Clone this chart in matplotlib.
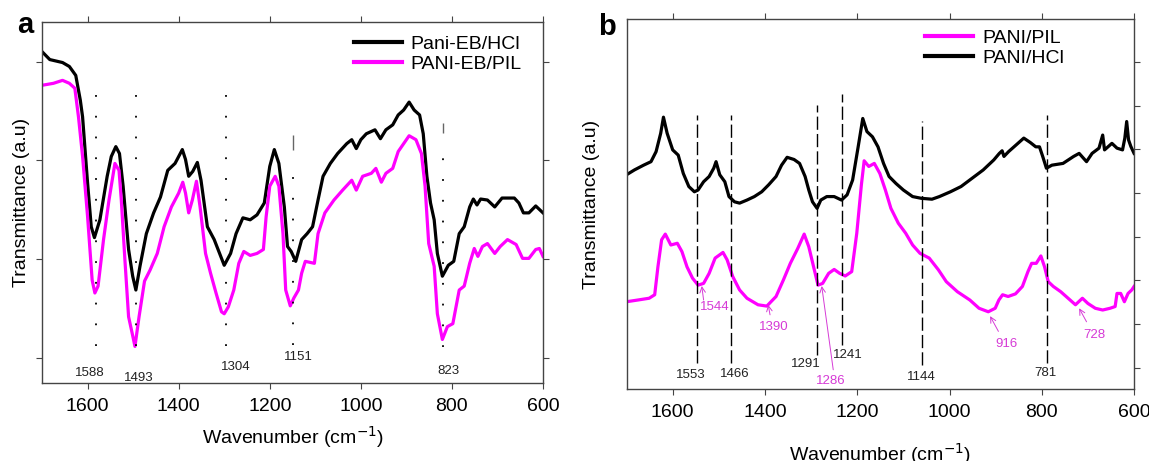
import matplotlib
matplotlib.use('Agg')
import matplotlib.pyplot as plt

plt.rcParams['font.family'] = ['Liberation Sans', 'DejaVu Sans']

# ---- panel a : FTIR spectra (transmittance, arbitrary units) ----
a_hcl_wn = [1700, 1683, 1655, 1640, 1626, 1616, 1611, 1600, 1592, 1585, 1573, 1557, 1548, 1538, 1530,
            1522, 1510, 1501, 1494, 1485, 1471, 1455, 1440, 1424, 1408, 1392, 1385, 1378, 1369, 1359,
            1351, 1337, 1322, 1300, 1286, 1274, 1259, 1243, 1228, 1212, 1200, 1190, 1180, 1168, 1161,
            1153, 1143, 1130, 1118, 1106, 1094, 1083, 1067, 1051, 1031, 1020, 1010, 1000, 988, 969,
            957, 945, 930, 918, 906, 894, 883, 871, 863, 855, 847, 839, 832, 821, 808, 796, 784, 773,
            761, 753, 745, 737, 722, 706, 690, 663, 653, 643, 631, 616, 600]
a_hcl_t = [3.10, 3.02, 2.99, 2.95, 2.86, 2.61, 2.44, 1.77, 1.33, 1.22, 1.40, 1.84, 2.04, 2.14, 2.07,
           1.74, 1.10, 0.83, 0.69, 0.93, 1.26, 1.47, 1.63, 1.90, 1.97, 2.11, 2.01, 1.84, 1.89, 1.98,
           1.80, 1.33, 1.20, 0.94, 1.06, 1.26, 1.42, 1.40, 1.45, 1.57, 1.94, 2.11, 1.97, 1.53, 1.13,
           1.08, 0.98, 1.20, 1.26, 1.33, 1.60, 1.84, 1.97, 2.07, 2.17, 2.21, 2.12, 2.21, 2.27, 2.31,
           2.22, 2.31, 2.36, 2.46, 2.51, 2.59, 2.51, 2.46, 2.27, 1.84, 1.57, 1.40, 1.06, 0.83, 0.94,
           0.98, 1.26, 1.33, 1.53, 1.61, 1.55, 1.61, 1.60, 1.53, 1.62, 1.62, 1.57, 1.47, 1.47, 1.54, 1.47]

a_pil_wn = [1700, 1675, 1655, 1640, 1628, 1620, 1611, 1600, 1590, 1584, 1577, 1565, 1553, 1540, 1531,
            1526, 1518, 1510, 1502, 1496, 1487, 1475, 1463, 1447, 1432, 1416, 1400, 1391, 1385, 1378,
            1370, 1361, 1353, 1341, 1330, 1318, 1306, 1300, 1291, 1279, 1268, 1257, 1243, 1228, 1214,
            1208, 1200, 1188, 1180, 1171, 1165, 1155, 1147, 1137, 1130, 1122, 1102, 1094, 1079, 1059,
            1040, 1020, 1010, 996, 977, 967, 955, 945, 930, 918, 906, 894, 879, 867, 859, 851, 839,
            832, 821, 810, 798, 784, 773, 761, 751, 743, 733, 722, 706, 694, 678, 659, 645, 631, 616,
            608, 600]
a_pil_t = [2.76, 2.78, 2.81, 2.78, 2.73, 2.44, 2.04, 1.43, 0.79, 0.66, 0.73, 1.20, 1.60, 1.97, 1.90,
           1.60, 0.99, 0.42, 0.25, 0.12, 0.42, 0.78, 0.89, 1.06, 1.33, 1.53, 1.67, 1.78, 1.67, 1.47,
           1.60, 1.79, 1.53, 1.06, 0.86, 0.66, 0.47, 0.45, 0.52, 0.69, 0.96, 1.08, 1.04, 1.06, 1.10,
           1.43, 1.74, 1.84, 1.74, 1.26, 0.69, 0.53, 0.61, 0.69, 0.86, 0.98, 0.96, 1.26, 1.47, 1.60,
           1.70, 1.80, 1.70, 1.84, 1.87, 1.92, 1.78, 1.87, 1.92, 2.09, 2.17, 2.25, 2.21, 2.07, 1.74,
           1.16, 0.93, 0.45, 0.19, 0.32, 0.35, 0.69, 0.73, 0.96, 1.11, 1.03, 1.13, 1.16, 1.06, 1.13,
           1.20, 1.15, 1.01, 1.01, 1.10, 1.11, 1.03]

# peak markers (dotted guides) and their labels
a_guide_wn = [1582, 1494, 1297, 1148, 820]
a_guide_top = [2.81, 2.81, 2.84, 1.89, 2.04]
a_guide_bot = [0.12, 0.12, 0.12, 0.13, 0.11]
a_tick_wn = [1148, 820]
a_tick_top = [2.26, 2.38]
a_tick_bot = [2.11, 2.28]
a_labels = ['1588', '1493', '1304', '1151', '823']
a_label_wn = [1596, 1487, 1275, 1137, 808]
a_label_t = [-0.15, -0.20, -0.09, 0.01, -0.13]

# ---- panel b ----
b_pil_wn = [1700, 1675, 1651, 1639, 1632, 1624, 1616, 1604, 1590, 1580, 1569, 1557, 1545, 1533, 1521,
            1508, 1491, 1482, 1470, 1455, 1439, 1415, 1396, 1376, 1360, 1345, 1329, 1315, 1305, 1293,
            1285, 1275, 1262, 1250, 1238, 1226, 1212, 1201, 1191, 1185, 1175, 1163, 1151, 1139, 1127,
            1111, 1095, 1080, 1064, 1044, 1024, 1007, 983, 956, 936, 916, 901, 893, 885, 873, 857,
            842, 830, 822, 812, 802, 794, 786, 775, 759, 743, 727, 712, 700, 684, 668, 652, 641, 637,
            629, 621, 613, 605, 600]
b_pil_t = [1.51, 1.55, 1.59, 1.67, 2.31, 2.93, 3.06, 2.81, 2.85, 2.66, 2.31, 2.05, 1.89, 1.93, 2.16,
           2.51, 2.64, 2.47, 2.09, 1.78, 1.59, 1.44, 1.41, 1.63, 2.01, 2.39, 2.73, 3.06, 2.77, 2.24,
           1.89, 1.93, 2.16, 2.25, 2.16, 2.10, 2.20, 3.08, 4.19, 4.74, 4.61, 4.68, 4.45, 4.07, 3.65,
           3.31, 3.08, 2.81, 2.62, 2.51, 2.24, 1.97, 1.74, 1.55, 1.36, 1.28, 1.36, 1.55, 1.67, 1.63,
           1.69, 1.86, 2.20, 2.39, 2.39, 2.56, 2.31, 1.97, 1.86, 1.74, 1.59, 1.44, 1.59, 1.47, 1.36,
           1.32, 1.36, 1.40, 1.70, 1.70, 1.51, 1.70, 1.78, 1.86]

b_hcl_wn = [1700, 1683, 1663, 1647, 1636, 1626, 1620, 1612, 1600, 1588, 1577, 1565, 1553, 1545, 1533,
            1521, 1511, 1506, 1498, 1487, 1478, 1466, 1455, 1439, 1423, 1407, 1392, 1376, 1364, 1352,
            1337, 1325, 1313, 1305, 1297, 1287, 1279, 1266, 1250, 1234, 1222, 1210, 1198, 1188, 1179,
            1167, 1155, 1143, 1131, 1116, 1100, 1080, 1061, 1038, 1022, 998, 975, 951, 927, 904, 892,
            886, 882, 872, 856, 839, 825, 813, 805, 798, 790, 778, 754, 731, 719, 703, 691, 676, 668,
            664, 648, 637, 625, 620, 616, 612, 607, 600]
b_hcl_t = [4.42, 4.53, 4.64, 4.72, 4.95, 5.37, 5.74, 5.37, 4.99, 4.87, 4.45, 4.15, 4.03, 4.07, 4.26,
           4.38, 4.57, 4.72, 4.42, 4.26, 3.92, 3.80, 3.77, 3.84, 3.92, 4.03, 4.19, 4.38, 4.64, 4.82,
           4.77, 4.68, 4.38, 4.07, 3.80, 3.65, 3.84, 3.92, 3.92, 3.84, 3.96, 4.30, 5.06, 5.71, 5.41,
           5.29, 5.06, 4.68, 4.38, 4.22, 4.07, 3.92, 3.88, 3.86, 3.92, 4.03, 4.15, 4.34, 4.53, 4.76,
           4.91, 4.97, 4.84, 4.95, 5.10, 5.26, 5.16, 5.06, 5.06, 4.84, 4.57, 4.64, 4.68, 4.84, 4.91,
           4.72, 4.91, 5.03, 5.33, 4.99, 5.14, 5.03, 4.99, 5.26, 5.64, 5.22, 5.07, 4.91]

b_guide_wn = [1548, 1474, 1288, 1232, 1060, 789]
b_guide_top = [5.79, 5.79, 6.02, 6.27, 5.66, 5.79]
b_guide_bot = [0.11, 0.11, 0.29, 0.52, 0.06, 0.11]
b_labels = ['1553', '1466', '1291', '1241', '1144', '781']
b_label_wn = [1561, 1465, 1311, 1220, 1061, 793]
b_label_t = [-0.18, -0.15, 0.08, 0.29, -0.21, -0.13]

# magenta peak annotations: label, text position, arrow tip
b_ann_labels = ['1544', '1390', '1286', '916', '728']
b_ann_wn = [1508, 1380, 1257, 877, 686]
b_ann_t = [1.38, 0.94, -0.30, 0.54, 0.75]
b_tip_wn = [1537, 1393, 1277, 912, 719]
b_tip_t = [1.87, 1.44, 1.87, 1.18, 1.36]
b_tail_wn = [1533, 1389, 1252, 894, 703]
b_tail_t = [1.55, 1.21, -0.05, 0.83, 1.05]

MAG = '#ff00ff'
MAG_TXT = '#d63ad6'

fig = plt.figure(figsize=(11.49, 4.61), dpi=100)
ax1 = fig.add_axes([0.0366, 0.1692, 0.436, 0.7831])
ax2 = fig.add_axes([0.5453, 0.1562, 0.4417, 0.8026])

# panel a
ax1.plot(a_hcl_wn, a_hcl_t, color='black', lw=2.3, label='Pani-EB/HCl')
ax1.plot(a_pil_wn, a_pil_t, color=MAG, lw=2.3, label='PANI-EB/PIL')
ax1.vlines(a_guide_wn, a_guide_bot, a_guide_top, colors='black', lw=1.3, linestyles=[(0, (1, 10.5))])
ax1.vlines(a_tick_wn, a_tick_bot, a_tick_top, colors='#666666', lw=1.0)
for lab, x, y in zip(a_labels, a_label_wn, a_label_t):
    ax1.text(x, y, lab, fontsize=9.5, ha='center', va='center', color='#222222')
ax1.set_xlim(1700, 600)
ax1.set_ylim(-0.25, 3.40)
ax1.set_yticks([0, 1, 2, 3])
ax1.tick_params(axis='y', left=True, right=True, labelleft=False, direction='out', length=4, color='#444444')
ax1.tick_params(axis='x', top=True, bottom=True, direction='out', length=4, pad=7, labelsize=14,
                color='#444444')
ax1.set_xlabel('Wavenumber (cm$^{-1}$)', fontsize=14)
ax1.set_ylabel('Transmittance (a.u)', fontsize=14)
ax1.xaxis.set_label_coords(0.5, -0.115)
ax1.yaxis.set_label_coords(-0.025, 0.5)
leg1 = ax1.legend(loc='upper left', bbox_to_anchor=(0.622, 0.964), frameon=False, fontsize=14,
                  handlelength=2.47, handletextpad=0.46, labelspacing=0.15, borderpad=0, borderaxespad=0)
for ln in leg1.get_lines():
    ln.set_linewidth(3.0)

# panel b
ax2.plot(b_pil_wn, b_pil_t, color=MAG, lw=2.3, label='PANI/PIL')
ax2.plot(b_hcl_wn, b_hcl_t, color='black', lw=2.3, label='PANI/HCl')
ax2.vlines(b_guide_wn, b_guide_bot, b_guide_top, colors='black', lw=1.0, linestyles=[(0, (9.5, 3))])
for lab, x, y in zip(b_labels, b_label_wn, b_label_t):
    ax2.text(x, y, lab, fontsize=9.5, ha='center', va='center', color='#222222')
for lab, x, y, tx, ty, sx, sy in zip(b_ann_labels, b_ann_wn, b_ann_t, b_tip_wn, b_tip_t,
                                     b_tail_wn, b_tail_t):
    ax2.text(x, y, lab, fontsize=9.5, ha='center', va='center', color=MAG_TXT)
    ax2.annotate('', xy=(tx, ty), xytext=(sx, sy),
                 arrowprops=dict(arrowstyle='->', color=MAG_TXT, lw=0.7, shrinkA=0, shrinkB=0))
ax2.set_xlim(1700, 600)
ax2.set_ylim(-0.49, 7.99)
ax2.set_yticks(range(8))
ax2.tick_params(axis='y', left=False, right=True, labelleft=False, direction='out', length=4,
                color='#444444')
ax2.tick_params(axis='x', top=True, bottom=True, direction='out', length=4, pad=7, labelsize=14,
                color='#444444')
ax2.set_xlabel('Wavenumber (cm$^{-1}$)', fontsize=14)
ax2.set_ylabel('Transmittance (a.u)', fontsize=14)
ax2.xaxis.set_label_coords(0.5, -0.14)
ax2.yaxis.set_label_coords(-0.053, 0.5)
leg2 = ax2.legend(loc='upper left', bbox_to_anchor=(0.588, 0.973), frameon=False, fontsize=14,
                  handlelength=2.47, handletextpad=0.46, labelspacing=0.15, borderpad=0, borderaxespad=0)
for ln in leg2.get_lines():
    ln.set_linewidth(3.0)

for ax in (ax1, ax2):
    for sp in ax.spines.values():
        sp.set_color('#444444')
        sp.set_linewidth(1.0)

fig.text(25 / 1149, 1 - 25 / 461, 'a', fontsize=21, fontweight='bold', ha='center', va='center')
fig.text(607 / 1149, 1 - 27 / 461, 'b', fontsize=21, fontweight='bold', ha='center', va='center')

fig.savefig('out.png', dpi=100)
